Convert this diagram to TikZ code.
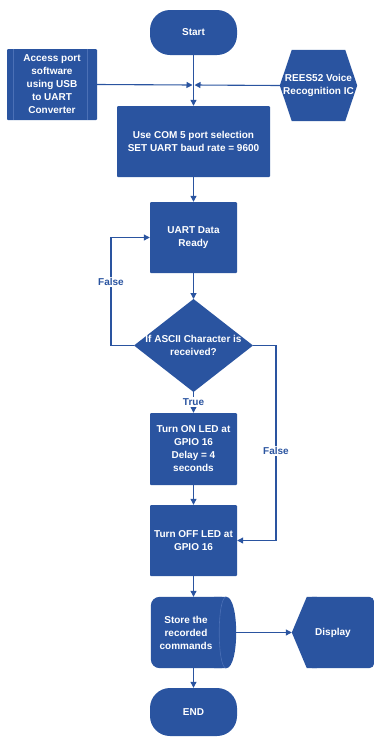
\documentclass[tikz,border=0pt]{standalone}
\usepackage{fontspec}
\setmainfont{Liberation Sans}
\usetikzlibrary{arrows.meta,backgrounds,calc}
\definecolor{flow}{RGB}{42,84,160}
\definecolor{flowline}{RGB}{75,112,182}
\begin{document}
\begin{tikzpicture}[x=1pt,y=-1pt,
  every node/.style={font=\bfseries\fontsize{10}{13}\selectfont, text=white, align=center, inner sep=0pt},
  box/.style={rectangle, fill=flow, rounded corners=1pt},
  term/.style={rectangle, fill=flow, rounded corners=20pt, minimum width=87pt},
  conn/.style={draw=flow, line width=1.1pt, -{Triangle[length=6pt,width=6pt]}},
  plain/.style={draw=flow, line width=1.1pt},
  lbl/.style={fill=white, text=flow, inner sep=1.5pt},
  ]
\useasboundingbox (0,0) rectangle (374,740);

% nodes
\node[term, minimum height=45pt] (start) at (193.5,32.5) {Start};
\node[box, minimum width=90pt, minimum height=71pt] (access) at (52,84.5) {Access port\\software\\using USB\\to UART\\Converter};
\node[minimum width=77pt, minimum height=71pt] (rees) at (318.5,85.5) {REES52 Voice\\Recognition IC};
\node[box, minimum width=153pt, minimum height=71pt] (com) at (193.5,141.5) {Use COM 5 port selection\\SET UART baud rate = 9600};
\node[box, minimum width=87pt, minimum height=71pt] (uart) at (193.5,237.5) {UART Data\\Ready};
\node (dec) at (193.5,345.5) {If ASCII Character is\\received?};
\coordinate (dT) at (193.5,299);
\coordinate (dB) at (193.5,392);
\coordinate (dL) at (134,345.5);
\coordinate (dR) at (253,345.5);
\node[box, minimum width=87pt, minimum height=72pt] (on) at (193.5,449) {Turn ON LED at\\GPIO 16\\Delay = 4\\seconds};
\node[box, minimum width=87pt, minimum height=71pt] (off) at (193.5,540.5) {Turn OFF LED at\\GPIO 16};
\node[minimum width=85pt, minimum height=71pt] (store) at (193.5,632.5) {};
\node (storetext) at (186,632.5) {Store the\\recorded\\commands};
\node[minimum width=82pt, minimum height=71pt] (display) at (333,632.5) {Display};
\node[term, minimum height=48pt] (end) at (193.5,712) {END};

% connectors
\coordinate (j) at (193.5,85);
\draw[conn] (start.south) -- (com.north);
\draw[conn] (access.east) -- ([xshift=-1pt]j);
\draw[conn] (rees.west) -- ([xshift=1pt]j);
\draw[conn] (com.south) -- (uart.north);
\draw[conn] (uart.south) -- (dT);
\draw[conn] (dL) -- (111,345.5) |- (uart.west);
\node[lbl] (f1) at (111,282) {False};
\draw[conn] (dB) -- (on.north);
\node[lbl] (t1) at (193.5,402) {True};
\draw[conn] (dR) -- (276,345.5) |- (off.east);
\node[lbl] (f2) at (276,451) {False};
\draw[conn] (on.south) -- (off.north);
\draw[conn] (off.south) -- (store.north);
\draw[conn] (store.east) -- (display.west);
\draw[conn] (store.south) -- (end.north);

% custom shapes
\begin{pgfonlayer}{background}
\fill[flow] (dL) -- (dT) -- (dR) -- (dB) -- cycle;
\fill[flow] (rees.west) -- ([xshift=12pt]rees.north west) -- ([xshift=-12pt]rees.north east)
  -- (rees.east) -- ([xshift=-12pt]rees.south east) -- ([xshift=12pt]rees.south west) -- cycle;
\fill[flow, rounded corners=5pt] ([xshift=20pt]display.north west) -- (display.north east)
  -- (display.south east) -- ([xshift=20pt]display.south west);
\fill[flow] (display.west) -- ([xshift=15pt]display.north west) -- ([xshift=25pt]display.north west)
  -- ([xshift=25pt]display.south west) -- ([xshift=15pt]display.south west) -- cycle;
\fill[flow, rounded corners=9pt] (store.north west) rectangle ([xshift=-6pt]store.south east);
\fill[flow] ([xshift=-22pt]store.north east) -- ([xshift=-10pt]store.north east)
  .. controls ([xshift=3.3pt]store.north east) and ([xshift=3.3pt]store.south east) .. ([xshift=-10pt]store.south east)
  -- ([xshift=-22pt]store.south east) -- cycle;
\draw[flowline, line width=0.6pt] ([xshift=-10pt]store.north east)
  .. controls ([xshift=-19.3pt]store.north east) and ([xshift=-19.3pt]store.south east) .. ([xshift=-10pt]store.south east);
\end{pgfonlayer}
\draw[flowline, line width=0.5pt] ([xshift=6pt]access.north west) -- ([xshift=6pt]access.south west);
\draw[flowline, line width=0.5pt] ([xshift=-10pt]access.north east) -- ([xshift=-10pt]access.south east);
\end{tikzpicture}
\end{document}
